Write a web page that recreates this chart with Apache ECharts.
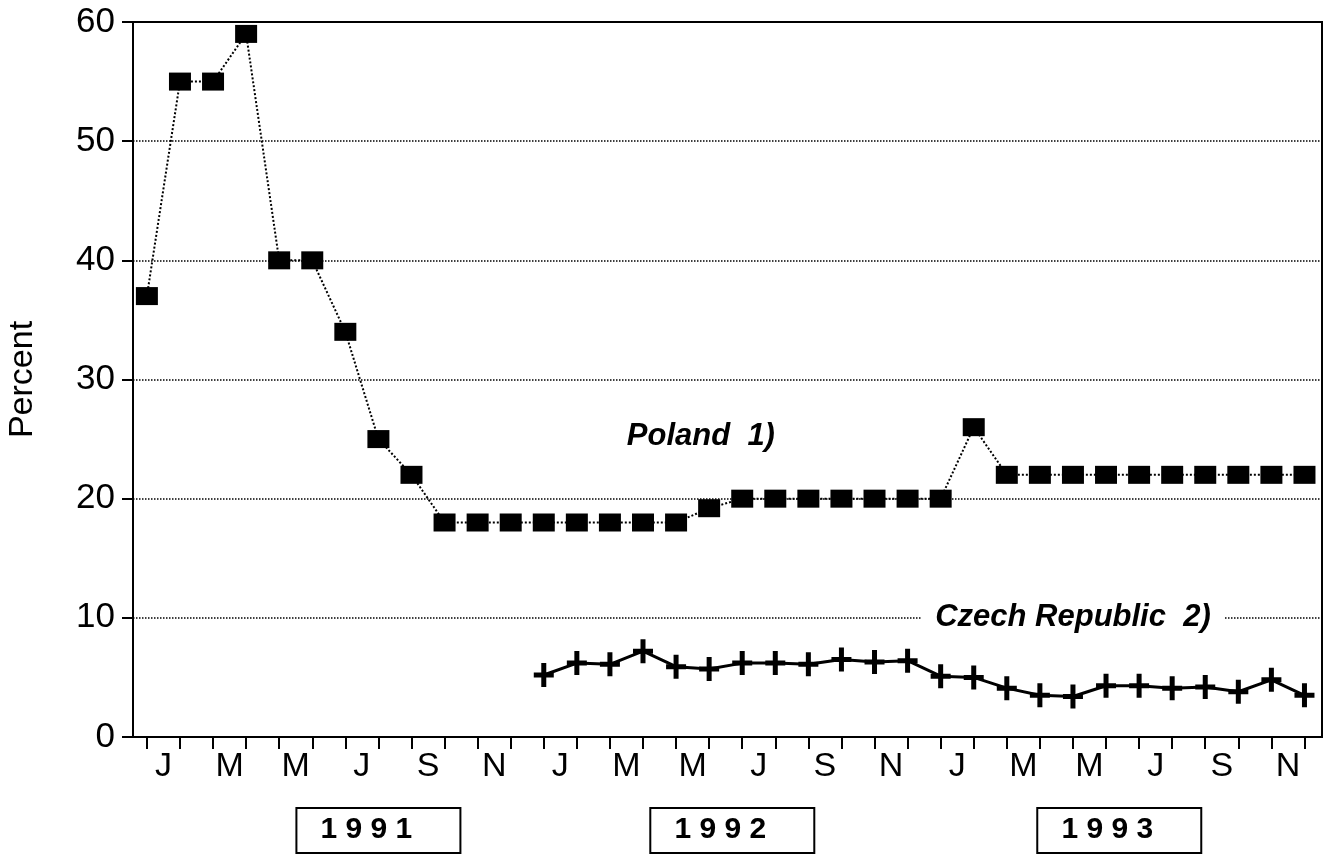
<!DOCTYPE html>
<html>
<head>
<meta charset="utf-8">
<title>Percent</title>
<script src="https://cdn.jsdelivr.net/npm/echarts@6/dist/echarts.min.js"></script>
<style>
html, body { margin: 0; padding: 0; background: #fff; }
#chart { width: 1328px; height: 855px; }
</style>
</head>
<body>
<div id="chart"></div>
<script>
// monthly data, Jan 1991 .. Dec 1993
const months = [
  'Jan 91','Feb 91','Mar 91','Apr 91','May 91','Jun 91','Jul 91','Aug 91','Sep 91','Oct 91','Nov 91','Dec 91',
  'Jan 92','Feb 92','Mar 92','Apr 92','May 92','Jun 92','Jul 92','Aug 92','Sep 92','Oct 92','Nov 92','Dec 92',
  'Jan 93','Feb 93','Mar 93','Apr 93','May 93','Jun 93','Jul 93','Aug 93','Sep 93','Oct 93','Nov 93','Dec 93'
]
const monthLetters = ['J','F','M','A','M','J','J','A','S','O','N','D']
const poland = [
  37, 55, 55, 59, 40, 40, 34, 25, 22, 18, 18, 18,
  18, 18, 18, 18, 18, 19.2, 20, 20, 20, 20, 20, 20,
  20, 26, 22, 22, 22, 22, 22, 22, 22, 22, 22, 22
]
const czech = [
  null, null, null, null, null, null, null, null, null, null, null, null,
  5.2, 6.2, 6.1, 7.2, 5.9, 5.7, 6.2, 6.2, 6.1, 6.5, 6.3, 6.4,
  5.1, 5.0, 4.1, 3.5, 3.4, 4.3, 4.3, 4.1, 4.2, 3.8, 4.8, 3.5
]
const yTicks = [0, 10, 20, 30, 40, 50, 60]
const years = ['1991', '1992', '1993']

const FONT = '"Liberation Sans", Arial, Helvetica, sans-serif'
const plus = 'path://M7.5,0H12.5V9.5H20V14.5H12.5V24H7.5V14.5H0V9.5H7.5Z'

let myChart = echarts.init(document.getElementById('chart'))

const tickVals = months.map((m, i) => i)
// a letter under every second month, centred between ticks
const labelVals = months.map((m, i) => i).filter(i => i % 2 === 0).map(i => i + 0.5)

myChart.setOption({
  animation: false,
  backgroundColor: '#fff',
  textStyle: { fontFamily: FONT },
  grid: {
    left: 133, right: 6, top: 22, bottom: 118,
    outerBoundsMode: 'none',
    containLabel: false,
    show: true, borderColor: '#000', borderWidth: 2
  },
  xAxis: {
    type: 'value',
    min: -0.42,
    max: 35.53,
    axisLine: { show: true, lineStyle: { color: '#000', width: 2 } },
    axisTick: { show: true, length: 12, lineStyle: { color: '#000', width: 2 }, customValues: tickVals },
    axisLabel: {
      customValues: labelVals,
      formatter: v => monthLetters[Math.floor(v) % 12],
      color: '#000', fontSize: 34, margin: 13, fontFamily: FONT
    },
    splitLine: { show: false }
  },
  yAxis: {
    type: 'value',
    min: yTicks[0],
    max: yTicks[yTicks.length - 1],
    interval: 10,
    name: 'Percent',
    nameLocation: 'middle',
    nameRotate: 90,
    nameGap: 93,
    nameTextStyle: { color: '#000', fontSize: 34, fontFamily: FONT },
    axisLine: { show: true, onZero: false, lineStyle: { color: '#000', width: 2 } },
    axisTick: { show: true, length: 11, lineStyle: { color: '#000', width: 2 } },
    axisLabel: { color: '#000', fontSize: 35, margin: 18, fontFamily: FONT },
    splitLine: { show: true, lineStyle: { color: '#000', type: 'dotted', width: 1.5 } }
  },
  series: [
    {
      name: 'Poland 1)',
      type: 'line',
      data: poland.map((v, i) => [i, v]),
      symbol: 'rect',
      symbolSize: [22, 18],
      itemStyle: { color: '#000' },
      lineStyle: { color: '#000', width: 2, type: 'dotted' }
    },
    {
      name: 'Czech Republic 2)',
      type: 'line',
      data: czech.map((v, i) => [i, v]),
      symbol: plus,
      symbolSize: [20, 24],
      itemStyle: { color: '#000' },
      lineStyle: { color: '#000', width: 3 }
    }
  ]
})

// annotations: series names and year boxes
const notes = [
  { text: 'Poland  1)', at: [16.75, 25.2] },
  { text: 'Czech Republic  2)', at: [28.0, 10] }
]
const yearCentres = [7.0, 17.7, 29.4]

let graphics = []
notes.forEach(n => {
  const p = myChart.convertToPixel({ gridIndex: 0 }, n.at)
  graphics.push({
    type: 'text', x: p[0], y: p[1], z: 100,
    style: {
      text: n.text, font: 'italic bold 31px ' + FONT, fill: '#000',
      align: 'center', verticalAlign: 'middle',
      backgroundColor: '#fff', padding: [0, 14]
    }
  })
})
years.forEach((y, i) => {
  const p = myChart.convertToPixel({ gridIndex: 0 }, [yearCentres[i], 0])
  graphics.push({
    type: 'group', x: p[0], y: 830, z: 100,
    children: [
      { type: 'rect', shape: { x: -82, y: -22, width: 164, height: 45 },
        style: { fill: '#fff', stroke: '#000', lineWidth: 2 } },
      { type: 'text', x: -12, y: 0,
        style: { text: y.split('').join(' '), font: 'bold 30px ' + FONT, fill: '#000',
                 align: 'center', verticalAlign: 'middle' } }
    ]
  })
})
myChart.setOption({ graphic: graphics })
</script>
</body>
</html>
